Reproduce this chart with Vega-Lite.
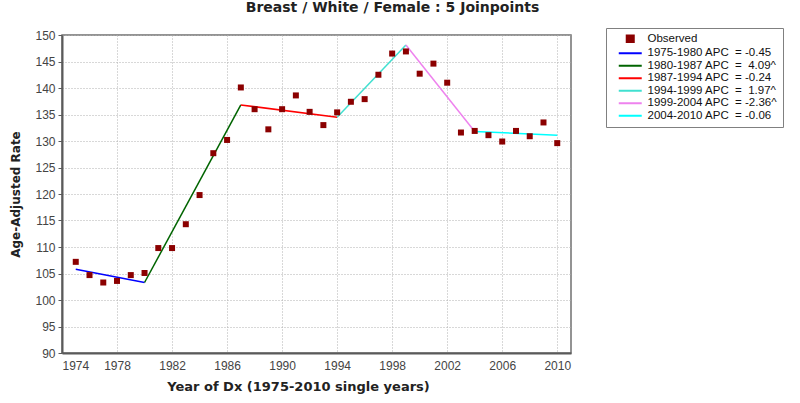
{
  "$schema": "https://vega.github.io/schema/vega-lite/v6.json",
  "width": 509,
  "height": 318,
  "autosize": {"type": "none"},
  "padding": {"left": 62, "top": 35, "right": 229, "bottom": 50},
  "background": "white",
  "title": {
    "text": "Breast / White / Female : 5 Joinpoints",
    "font": "DejaVu Sans",
    "fontSize": 14,
    "fontWeight": "bold",
    "color": "#222222",
    "anchor": "middle",
    "frame": "group",
    "dx": 76,
    "offset": 13
  },
  "config": {
    "view": {"stroke": "#707070", "strokeWidth": 1.5},
    "axis": {
      "labelFont": "Liberation Sans",
      "labelFontSize": 12,
      "labelColor": "#444444",
      "titleFont": "DejaVu Sans",
      "titleFontWeight": "bold",
      "titleColor": "#222222",
      "domainColor": "#5a5a5a",
      "domainWidth": 2,
      "gridColor": "#b0b0b0",
      "gridDash": [1, 2],
      "gridWidth": 1,
      "tickColor": "#5a5a5a"
    },
    "legend": {
      "labelFont": "Liberation Sans",
      "labelFontSize": 11.5,
      "labelColor": "#111111",
      "strokeColor": "#808080",
      "padding": 5,
      "rowPadding": -0.5
    }
  },
  "datasets": {
    "observed": [
      {"year": 1975, "rate": 107.2, "series": "Observed"},
      {"year": 1976, "rate": 104.7, "series": "Observed"},
      {"year": 1977, "rate": 103.3, "series": "Observed"},
      {"year": 1978, "rate": 103.6, "series": "Observed"},
      {"year": 1979, "rate": 104.7, "series": "Observed"},
      {"year": 1980, "rate": 105.1, "series": "Observed"},
      {"year": 1981, "rate": 109.8, "series": "Observed"},
      {"year": 1982, "rate": 109.8, "series": "Observed"},
      {"year": 1983, "rate": 114.3, "series": "Observed"},
      {"year": 1984, "rate": 119.8, "series": "Observed"},
      {"year": 1985, "rate": 127.7, "series": "Observed"},
      {"year": 1986, "rate": 130.2, "series": "Observed"},
      {"year": 1987, "rate": 140.1, "series": "Observed"},
      {"year": 1988, "rate": 136.0, "series": "Observed"},
      {"year": 1989, "rate": 132.2, "series": "Observed"},
      {"year": 1990, "rate": 136.0, "series": "Observed"},
      {"year": 1991, "rate": 138.6, "series": "Observed"},
      {"year": 1992, "rate": 135.5, "series": "Observed"},
      {"year": 1993, "rate": 133.0, "series": "Observed"},
      {"year": 1994, "rate": 135.4, "series": "Observed"},
      {"year": 1995, "rate": 137.4, "series": "Observed"},
      {"year": 1996, "rate": 137.9, "series": "Observed"},
      {"year": 1997, "rate": 142.5, "series": "Observed"},
      {"year": 1998, "rate": 146.5, "series": "Observed"},
      {"year": 1999, "rate": 146.9, "series": "Observed"},
      {"year": 2000, "rate": 142.7, "series": "Observed"},
      {"year": 2001, "rate": 144.6, "series": "Observed"},
      {"year": 2002, "rate": 141.0, "series": "Observed"},
      {"year": 2003, "rate": 131.6, "series": "Observed"},
      {"year": 2004, "rate": 131.9, "series": "Observed"},
      {"year": 2005, "rate": 131.1, "series": "Observed"},
      {"year": 2006, "rate": 129.9, "series": "Observed"},
      {"year": 2007, "rate": 131.9, "series": "Observed"},
      {"year": 2008, "rate": 130.9, "series": "Observed"},
      {"year": 2009, "rate": 133.5, "series": "Observed"},
      {"year": 2010, "rate": 129.6, "series": "Observed"}
    ],
    "segments": [
      {"year": 1975, "rate": 105.8, "series": "1975-1980 APC\u00a0 = -0.45"},
      {"year": 1980, "rate": 103.3, "series": "1975-1980 APC\u00a0 = -0.45"},
      {"year": 1980, "rate": 103.3, "series": "1980-1987 APC\u00a0 =\u00a0 4.09^"},
      {"year": 1987, "rate": 136.8, "series": "1980-1987 APC\u00a0 =\u00a0 4.09^"},
      {"year": 1987, "rate": 136.8, "series": "1987-1994 APC\u00a0 = -0.24"},
      {"year": 1994, "rate": 134.5, "series": "1987-1994 APC\u00a0 = -0.24"},
      {"year": 1994, "rate": 134.5, "series": "1994-1999 APC\u00a0 =\u00a0 1.97^"},
      {"year": 1999, "rate": 148.1, "series": "1994-1999 APC\u00a0 =\u00a0 1.97^"},
      {"year": 1999, "rate": 148.1, "series": "1999-2004 APC\u00a0 = -2.36^"},
      {"year": 2004, "rate": 131.8, "series": "1999-2004 APC\u00a0 = -2.36^"},
      {"year": 2004, "rate": 131.8, "series": "2004-2010 APC\u00a0 = -0.06"},
      {"year": 2010, "rate": 131.1, "series": "2004-2010 APC\u00a0 = -0.06"}
    ]
  },
  "encoding": {
    "x": {
      "field": "year",
      "type": "quantitative",
      "scale": {"domain": [1974, 2011], "nice": false, "zero": false},
      "axis": {
        "title": "Year of Dx (1975-2010 single years)",
        "titleFontSize": 13,
        "titlePadding": 9,
        "titleX": 236,
        "values": [1974, 1978, 1982, 1986, 1990, 1994, 1998, 2002, 2006, 2010],
        "format": "d",
        "ticks": false,
        "labelPadding": 7
      }
    },
    "y": {
      "field": "rate",
      "type": "quantitative",
      "scale": {"domain": [90, 150], "nice": false, "zero": false},
      "axis": {
        "title": "Age-Adjusted Rate",
        "titleFontSize": 12,
        "titlePadding": 12,
        "values": [90, 95, 100, 105, 110, 115, 120, 125, 130, 135, 140, 145, 150],
        "tickSize": 4,
        "labelPadding": 3
      }
    },
    "color": {
      "field": "series",
      "type": "nominal",
      "scale": {
        "domain": ["Observed", "1975-1980 APC\u00a0 = -0.45", "1980-1987 APC\u00a0 =\u00a0 4.09^", "1987-1994 APC\u00a0 = -0.24", "1994-1999 APC\u00a0 =\u00a0 1.97^", "1999-2004 APC\u00a0 = -2.36^", "2004-2010 APC\u00a0 = -0.06"],
        "range": ["#8b0000", "#0000ff", "#006400", "#ff0000", "#40e0d0", "#ee82ee", "#00ffff"]
      },
      "legend": {
        "title": null,
        "orient": "none",
        "legendX": 544,
        "legendY": -7,
        "symbolSize": 36,
        "symbolStrokeWidth": 2,
        "labelOffset": 25,
        "labelExpr": "datum.label + '\u00a0\u00a0\u00a0\u00a0\u00a0\u00a0\u00a0\u00a0'",
        "encode": {
          "symbols": {
            "update": {
              "shape": {"signal": "datum.value === 'Observed' ? 'M3.33,-1.1H5.67V1.1H3.33Z' : 'M0.67,0H8.33'"},
              "size": {"value": 36},
              "fill": {"signal": "datum.value === 'Observed' ? '#8b0000' : 'transparent'"},
              "stroke": {"signal": "datum.value === 'Observed' ? 'transparent' : scale('color', datum.value)"},
              "strokeWidth": {"value": 2},
              "opacity": {"value": 1}
            }
          }
        }
      }
    }
  },
  "layer": [
    {
      "data": {"name": "segments"},
      "mark": {"type": "line", "strokeWidth": 1.5}
    },
    {
      "data": {"name": "observed"},
      "mark": {"type": "square", "size": 36, "opacity": 1, "filled": true}
    }
  ]
}
